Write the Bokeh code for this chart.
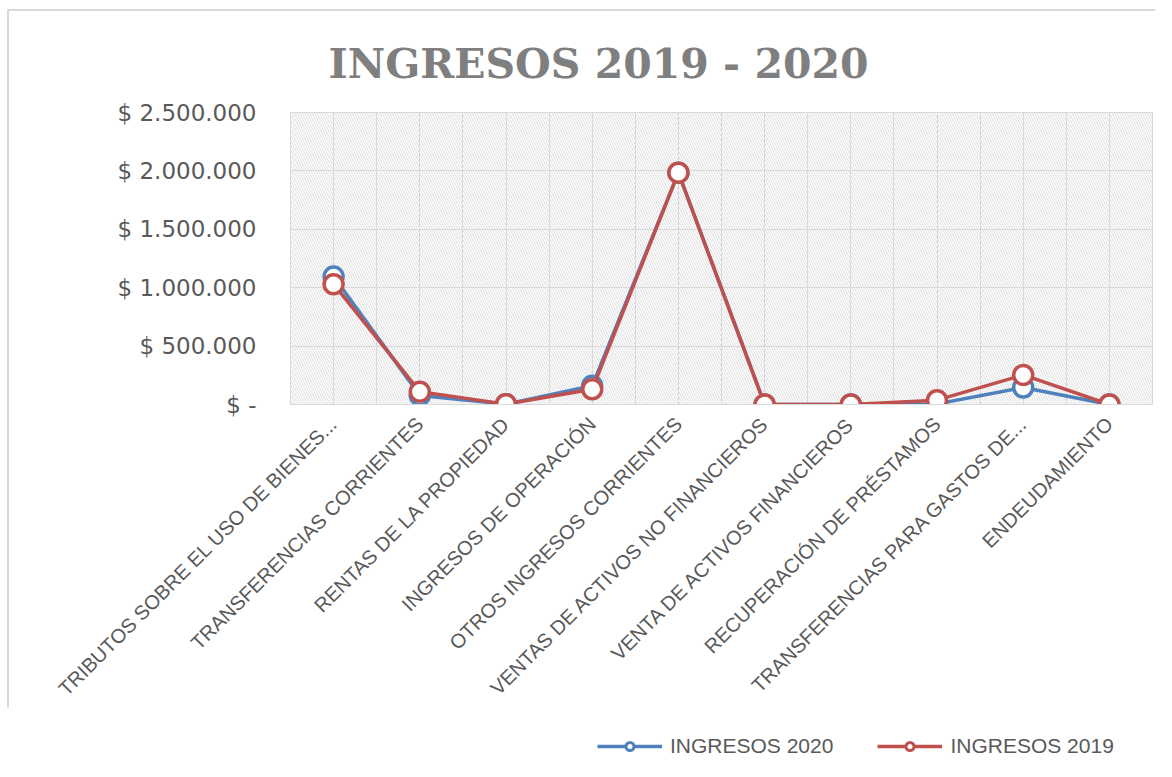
from bokeh.plotting import figure
from bokeh.layouts import column
from bokeh.models import FixedTicker, BoxAnnotation, Legend, LegendItem, Range1d
from bokeh.embed import file_html
from bokeh.resources import INLINE
import math

categories = [
    "TRIBUTOS SOBRE EL USO DE BIENES...",
    "TRANSFERENCIAS CORRIENTES",
    "RENTAS DE LA PROPIEDAD",
    "INGRESOS DE OPERACIÓN",
    "OTROS INGRESOS CORRIENTES",
    "VENTAS DE ACTIVOS NO FINANCIEROS",
    "VENTA DE ACTIVOS FINANCIEROS",
    "RECUPERACIÓN DE PRÉSTAMOS",
    "TRANSFERENCIAS PARA GASTOS DE...",
    "ENDEUDAMIENTO",
]
ingresos_2020 = [1095000, 78000, 3000, 160000, 1985000, 0, 0, 5000, 145000, 0]
ingresos_2019 = [1030000, 110000, 3000, 130000, 1985000, 0, 0, 37000, 253000, 0]
y_ticks = [0, 500000, 1000000, 1500000, 2000000, 2500000]
y_tick_labels = ["$ -", "$ 500.000", "$ 1.000.000", "$ 1.500.000", "$ 2.000.000", "$ 2.500.000"]

FONT = "Liberation Sans"
GRAY = "#595959"
BLUE = "#4F81BD"
RED = "#C0504D"
x = list(range(len(categories)))

p = figure(frame_width=860, frame_height=290, output_backend="svg", toolbar_location=None,
           x_range=Range1d(-0.5, len(categories) - 0.5), y_range=Range1d(0, 2500000),
           min_border_left=281, min_border_right=5, min_border_top=101, min_border_bottom=0)
p.margin = (9, 0, 0, 7)
p.styles = {"border-left": "2px solid #d9d9d9", "border-top": "2px solid #d9d9d9"}

p.title.text = "INGRESOS 2019 - 2020"
p.title.align = "left"
p.title.text_font = "DejaVu Serif"
p.title.text_font_size = "41px"
p.title.text_font_style = "bold"
p.title.text_color = "#7f7f7f"
p.title.offset = 38
p.title.standoff = 50

p.outline_line_color = "#d9d9d9"

# hatch background
bg = BoxAnnotation(fill_alpha=0, line_alpha=0, hatch_pattern="\\", hatch_color="#dcdcdc",
                   hatch_scale=5, hatch_weight=1, level="image")
p.add_layout(bg)

p.yaxis.ticker = FixedTicker(ticks=y_ticks)
p.yaxis.major_label_overrides = {t: l for t, l in zip(y_ticks, y_tick_labels)}
p.yaxis.axis_line_color = None
p.yaxis.major_tick_line_color = None
p.yaxis.minor_tick_line_color = None
p.yaxis.major_label_text_font = "DejaVu Sans"
p.yaxis.major_label_text_font_size = "23px"
p.yaxis.major_label_text_color = GRAY
p.yaxis.major_label_standoff = 28

p.xaxis.ticker = FixedTicker(ticks=x)
p.xaxis.major_label_overrides = {i: c for i, c in zip(x, categories)}
p.xaxis.major_label_orientation = math.pi / 4
p.xaxis.axis_line_color = "#d9d9d9"
p.xaxis.major_tick_line_color = None
p.xaxis.minor_tick_line_color = None
p.xaxis.major_label_text_font = FONT
p.xaxis.major_label_text_font_size = "20px"
p.xaxis.major_label_text_color = GRAY
p.xaxis.major_label_standoff = 10

p.ygrid.ticker = FixedTicker(ticks=y_ticks)
p.ygrid.grid_line_color = "#d9d9d9"
p.xgrid.ticker = FixedTicker(ticks=[i * 0.5 - 0.5 for i in range(2 * len(categories) + 1)])
p.xgrid.grid_line_color = "#d9d9d9"

p.line(x, ingresos_2020, line_color=BLUE, line_width=3.5)
p.scatter(x, ingresos_2020, size=19, fill_color="white", line_color=BLUE, line_width=3.5)
p.line(x, ingresos_2019, line_color=RED, line_width=3.5)
p.scatter(x, ingresos_2019, size=19, fill_color="white", line_color=RED, line_width=3.5)

# legend strip below the chart (its own renderers lie outside its visible range)
p2 = figure(width=1160, height=60, output_backend="svg", toolbar_location=None,
            x_range=Range1d(100, 101), y_range=Range1d(100, 101),
            x_axis_location=None, y_axis_location=None,
            min_border_left=0, min_border_right=0, min_border_top=0, min_border_bottom=0)
p2.outline_line_color = None
p2.grid.visible = False
k20 = p2.line(x, ingresos_2020, line_color=BLUE, line_width=3.5)
m20 = p2.scatter(x, ingresos_2020, size=14, fill_color="white", line_color=BLUE, line_width=3)
k19 = p2.line(x, ingresos_2019, line_color=RED, line_width=3.5)
m19 = p2.scatter(x, ingresos_2019, size=14, fill_color="white", line_color=RED, line_width=3)

legend = Legend(items=[LegendItem(label="INGRESOS 2020", renderers=[k20, m20]),
                       LegendItem(label="INGRESOS 2019", renderers=[k19, m19])],
                orientation="horizontal", location=(316, 10), border_line_color=None,
                label_text_font=FONT, label_text_font_size="21px", label_text_color=GRAY,
                glyph_width=65, label_standoff=8, spacing=44, margin=0, padding=5,
                background_fill_alpha=0)
p2.add_layout(legend, "center")

open("out.html", "w").write(file_html(column(p, p2), INLINE))
